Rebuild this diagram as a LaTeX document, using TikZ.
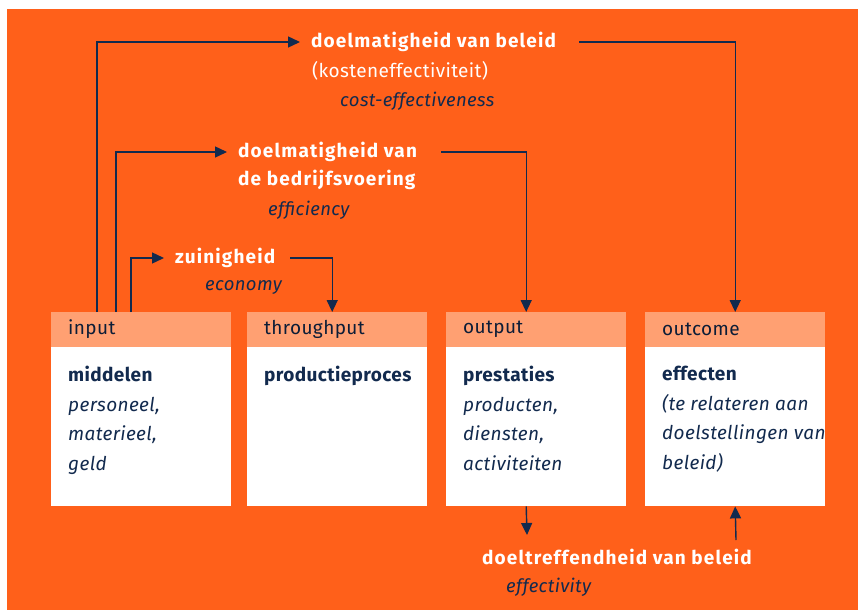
\documentclass[tikz,border=0pt]{standalone}
\usepackage{fontspec}
\setmainfont{Fira Sans}
\newfontfamily\wijd[LetterSpace=6]{Fira Sans}
\newfontfamily\halfwijd[LetterSpace=2]{Fira Sans}
\usetikzlibrary{arrows.meta}
\definecolor{oranje}{RGB}{255,96,26}
\definecolor{zalm}{RGB}{255,160,114}
\definecolor{navy}{RGB}{18,42,78}
\tikzset{
>={Triangle[length=12pt,width=11pt]},
  flow/.style={draw=navy, line width=1.4pt, ->},
  kop/.style={
    rectangle,
    fill=zalm,
    minimum width=180pt,
    minimum height=35pt,
    inner sep=0pt,
    anchor=north west},
  vak/.style={
    rectangle,
    fill=white,
    minimum width=180pt,
    minimum height=159pt,
    inner sep=0pt,
    anchor=north west},
  koptekst/.style={text=navy!70!black, font=\fontsize{19}{22}\selectfont\halfwijd, anchor=west, inner sep=0pt},
  vaktekst/.style={text=navy, font=\fontsize{19}{29.5}\selectfont\halfwijd, align=left, anchor=north west, inner sep=0pt},
  titel/.style={text=white, font=\fontsize{19}{22}\selectfont\wijd\bfseries, anchor=west, inner xsep=11pt, inner ysep=0pt},
  sub/.style={text=navy, font=\fontsize{18.5}{22}\selectfont\halfwijd\itshape, anchor=west, inner sep=0pt},
}
\begin{document}
\begin{tikzpicture}[x=1pt,y=-1pt]
\useasboundingbox (0,0) rectangle (858,610);
\fill[oranje] (7,9) rectangle (858,610);
% de vier vakken
\foreach \x/\naam/\kop in {51/input/input, 247/through/throughput, 446/output/output, 645/outcome/outcome}{
    \node[kop] (\naam hd) at (\x,312) {};
    \node[vak] (\naam bd) at (\x,347) {};
    \node[koptekst] at (\x+17,329) {\kop};
    }
\node[vaktekst] (inputtxt) at (68,366) {\textbf{middelen}\\ \textit{personeel,}\\ \textit{materieel,}\\ \textit{geld}};
\node[vaktekst] (throughtxt) at (264,366) {\textbf{productieproces}};
\node[vaktekst] (outputtxt) at (463,366) {\textbf{prestaties}\\ \textit{producten,}\\ \textit{diensten,}\\ \textit{activiteiten}};
\node[vaktekst] (outcometxt) at (662,366) {\textbf{effecten}\\ \textit{(te relateren aan}\\ \textit{doelstellingen van}\\ \textit{beleid)}};
% begrippen
\node[titel] (doelbel) at (300,42) {doelmatigheid van beleid};
\node[titel, font=\fontsize{19}{22}\selectfont\halfwijd] (kosten) at (301,71) {(kosteneffectiviteit)};
\node[sub] (cost) at (340,101) {cost-effectiveness};
\node[titel] (doelbedr) at (227,152) {doelmatigheid van};
\node[titel] (doelbedr2) at (227,180) {de bedrijfsvoering};
\node[sub] (effic) at (268,210) {efficiency};
\node[titel] (zuinig) at (164,258) {zuinigheid};
\node[sub] (econ) at (205,287) {economy};
\node[titel, anchor=center, inner xsep=0pt] (doeltref) at (617,557) {doeltreffendheid van beleid};
\node[sub] (effect) at (506,587) {effectivity};
\coordinate (neer) at (527,535);
\coordinate (op) at (736,540);
% pijlen
\draw[flow] (inputhd.north west) ++(46,0) |- (doelbel.west);
\draw[flow] ([xshift=12pt]doelbel.east) -| (outcomehd.north);
\draw[flow] (inputhd.north west) ++(65,0) |- (doelbedr.west);
\draw[flow] ([xshift=13pt]doelbedr.east) -| ([xshift=-10pt]outputhd.north);
\draw[flow] (inputhd.north west) ++(80,0) |- (zuinig.west);
\draw[flow] ([xshift=4pt]zuinig.east) -| ([xshift=-5pt]throughhd.north);
\draw[flow] ([xshift=-10pt]outputbd.south) -- (neer);
\draw[flow] (op) -- (outcomebd.south);
\end{tikzpicture}
\end{document}
